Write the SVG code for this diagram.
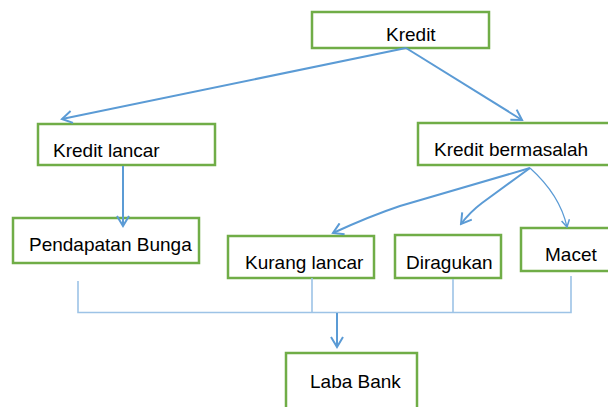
<svg xmlns="http://www.w3.org/2000/svg" width="608" height="407" viewBox="0 0 608 407">
<style>
.box{fill:#fff;stroke:#70AD47;stroke-width:2.5}
.lbl{font-family:"Liberation Sans",Arial,sans-serif;font-size:19px;fill:#000}
.arr{fill:none;stroke:#5B9BD5;stroke-width:2;marker-end:url(#ah)}
.thin{fill:none;stroke:#5B9BD5;stroke-width:1.2;marker-end:url(#ahs)}
.br{fill:none;stroke:#9DC3E6;stroke-width:1.6}
</style>
<defs>
<marker id="ah" markerUnits="userSpaceOnUse" markerWidth="14" markerHeight="14" viewBox="0 0 14 14" refX="12" refY="7" orient="auto">
<path d="M2,1 L12,7 L2,13" fill="none" stroke="#5B9BD5" stroke-width="2"/>
</marker>
<marker id="ahs" markerUnits="userSpaceOnUse" markerWidth="10" markerHeight="10" viewBox="0 0 10 10" refX="9" refY="5" orient="auto">
<path d="M2,1 L9,5 L2,9" fill="none" stroke="#5B9BD5" stroke-width="1.5"/>
</marker>
</defs>
<rect width="608" height="407" fill="#fff"/>
<g id="kredit">
<rect class="box" x="312" y="12" width="177" height="36"/>
<text class="lbl" x="386" y="41">Kredit</text>
</g>
<g id="kredit-lancar">
<rect class="box" x="38" y="124" width="177" height="41"/>
<text class="lbl" x="53" y="157">Kredit lancar</text>
</g>
<g id="kredit-bermasalah">
<rect class="box" x="418" y="123" width="194" height="42"/>
<text class="lbl" x="434" y="156">Kredit bermasalah</text>
</g>
<g id="pendapatan-bunga">
<rect class="box" x="13" y="218" width="186" height="45"/>
<text class="lbl" x="29" y="251">Pendapatan Bunga</text>
</g>
<g id="kurang-lancar">
<rect class="box" x="228" y="236" width="146" height="42"/>
<text class="lbl" x="245" y="269">Kurang lancar</text>
</g>
<g id="diragukan">
<rect class="box" x="395" y="235" width="106" height="43"/>
<text class="lbl" x="406" y="269">Diragukan</text>
</g>
<g id="macet">
<rect class="box" x="521" y="228" width="91" height="43"/>
<text class="lbl" x="545" y="261">Macet</text>
</g>
<g id="laba-bank">
<rect class="box" x="286" y="353" width="131" height="60"/>
<text class="lbl" x="310" y="388">Laba Bank</text>
</g>
<g id="connectors">
<path class="arr" d="M406,48 L62,119"/>
<path class="arr" d="M406,48 L522,120"/>
<path class="arr" d="M123,166 L123,226"/>
<path class="arr" d="M530,168 L400,206 Q370,216 333,233"/>
<path class="arr" d="M530,168 L482,203 Q470,212 461,224"/>
<path class="thin" d="M530,168 Q560,195 567,227"/>
<path class="br" d="M78,281 L78,312.5 L571,312.5 L571,276 M312,278 L312,312.5 M453,279 L453,312.5"/>
<path class="arr" d="M337,313 L337,347"/>
</g>
</svg>
